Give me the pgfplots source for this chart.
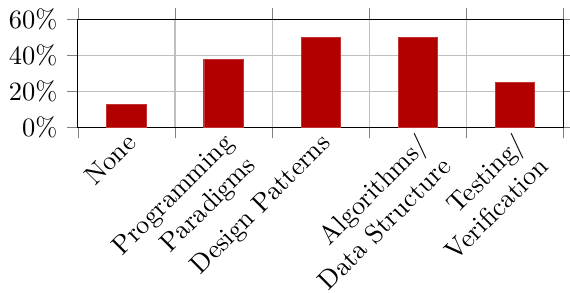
\documentclass[border=0pt]{standalone}
\usepackage{pgfplots}
\pgfplotsset{compat=1.18}
\begin{document}
\begin{tikzpicture}[trim right=186pt]
\begin{axis}[
  at={(0,0)}, anchor=south west,
  scale only axis,
  width=183.5pt, height=40.7pt,
  ybar, bar width=14.8pt,
  xmin=-0.5, xmax=4.5,
  ymin=0, ymax=60,
  ytick={0,20,40,60},
  yticklabel={\pgfmathprintnumber{\tick}\%},
  xtick={-0.5,0.5,1.5,2.5,3.5,4.5},
  xticklabels={},
  extra x ticks={0,1,2,3,4},
  extra x tick labels={None,{Programming\\Paradigms},{Design Patterns},{Algorithms/\\Data Structure},{Testing/\\Verification}},
  extra x tick style={grid=none, tick style={draw=none}},
  x tick label style={rotate=45, anchor=north east, align=right, inner sep=0pt, yshift=2.5pt, xshift=1.5pt},
  xmajorgrids, ymajorgrids,
  tick align=outside,
  tick style={gray},
]
\addplot[fill=red!70!black, draw=red!70!black!80!white] coordinates {(0,12.5) (1,37.5) (2,50) (3,50) (4,25)};
\end{axis}
\end{tikzpicture}
\end{document}
